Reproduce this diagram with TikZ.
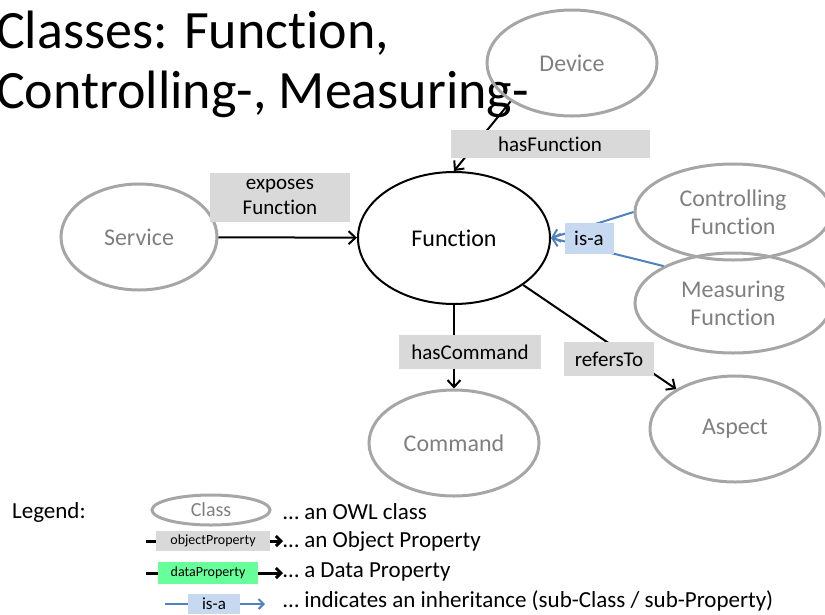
\documentclass[tikz,border=0pt]{standalone}
\usepackage{fontspec}
\setmainfont{Carlito}[Ligatures={NoCommon}]
\usetikzlibrary{shapes,arrows,arrows.meta,calc,positioning}
\definecolor{cgray}{HTML}{A6A6A6}
\definecolor{tgray}{HTML}{7F7F7F}
\definecolor{pgray}{HTML}{D9D9D9}
\definecolor{mblue}{HTML}{4F81BD}
\definecolor{lblue}{HTML}{C6D9F1}
\definecolor{mgreen}{HTML}{66FF99}
\tikzstyle{l1}=[line width=2]
\tikzstyle{arr}=[-{Straight Barb[length=7pt, width=13pt]}]
\tikzstyle{sarr}=[-{Straight Barb[length=5pt, width=10pt]}]
\tikzstyle{cls}=[ellipse, draw=cgray, line width=3, text=tgray, inner sep=0pt, font=\fontsize{24}{28}\selectfont, align=center]
\tikzstyle{fcls}=[cls, draw=black, text=black, line width=2]
\tikzstyle{prop}=[fill=pgray, inner sep=0pt, font=\fontsize{21}{25}\selectfont, align=center]
\tikzstyle{isa}=[prop, fill=lblue]
\tikzstyle{txt}=[anchor=west, inner sep=0pt, font=\fontsize{23}{27}\selectfont]
\tikzstyle{small}=[font=\fontsize{14}{16}\selectfont]

\begin{document}
\begin{tikzpicture}[x=1pt, y=-1pt]
    \useasboundingbox (0,0) rectangle (825,614);
    \node[anchor=base west, align=left, inner sep=0pt, font=\fontsize{54}{60}\selectfont] at (-4,108) (title) {Classes: Function,\\Controlling-, Measuring-};

    % classes
    \node[cls, minimum width=170, minimum height=106] at (572,63) (dev) {Device};
    \node[cls, minimum width=156, minimum height=106] at (139,237) (serv) {Service};
    \node[fcls, minimum width=192, minimum height=132] at (454,238) (func) {Function};
    \node[cls, minimum width=196, minimum height=96] at (733,212) (ctrl) {Controlling\\Function};
    \node[cls, minimum width=196, minimum height=100] at (733,303) (meas) {Measuring\\Function};
    \node[cls, minimum width=170, minimum height=106] at (454,443) (cmd) {Command};
    \node[cls, minimum width=170, minimum height=106] at (735,429) (asp) {Aspect};

    % properties
    \draw[l1, arr] (dev.212) -- (func.north);
    \draw[l1, arr] (serv) -- (func);
    \draw[l1, arr] (func) -- (cmd);
    \draw[l1, arr] (func) -- (asp);
    \draw[l1, mblue, arr] (ctrl.west) -- (func.east);
    \draw[l1, mblue, arr] (meas.152) -- (func.east);

    \node[prop, minimum width=199, minimum height=28] at (550,144) (hasf) {hasFunction};
    \node[prop, minimum width=140, minimum height=49] at (280,197) (expf) {exposes\\Function};
    \node[isa, minimum width=49, minimum height=31] at (589,238) (isa1) {is-a};
    \node[prop, minimum width=142, minimum height=34] at (470,352) (hasc) {hasCommand};
    \node[prop, minimum width=90, minimum height=34] at (609,359) (ref) {refersTo};

    % legend
    \node[txt] at (12,512) (leg) {Legend:};
    \node[cls, minimum width=118, minimum height=30, font=\fontsize{20}{24}\selectfont] at (211,510) (lcls) {Class};
    \node[txt] at (283,512) (lclst) {… an OWL class};

    \coordinate (o1) at (146,541); \coordinate (o2) at (283,541);
    \node[prop, small, minimum width=114, minimum height=20] at (213,541) (lobj) {objectProperty};
    \draw[line width=3] (o1) -- (lobj);
    \draw[line width=3, sarr] (lobj) -- (o2);
    \node[txt] at (283,541) (lobjt) {… an Object Property};

    \coordinate (d1) at (146,573); \coordinate (d2) at (283,573);
    \node[prop, small, fill=mgreen, minimum width=100, minimum height=22] at (208,573) (ldat) {dataProperty};
    \draw[line width=3] (d1) -- (ldat);
    \draw[line width=3, sarr] (ldat) -- (d2);
    \node[txt] at (283,572) (ldatt) {… a Data Property};

    \coordinate (i1) at (165,604); \coordinate (i2) at (265,604);
    \node[isa, font=\fontsize{17}{20}\selectfont, minimum width=52, minimum height=20] at (214,604) (lisa) {is-a};
    \draw[l1, mblue] (i1) -- (lisa);
    \draw[l1, mblue, sarr] (lisa) -- (i2);
    \node[txt] at (283,601) (lisat) {… indicates an inheritance (sub-Class / sub-Property)};
\end{tikzpicture}
\end{document}
